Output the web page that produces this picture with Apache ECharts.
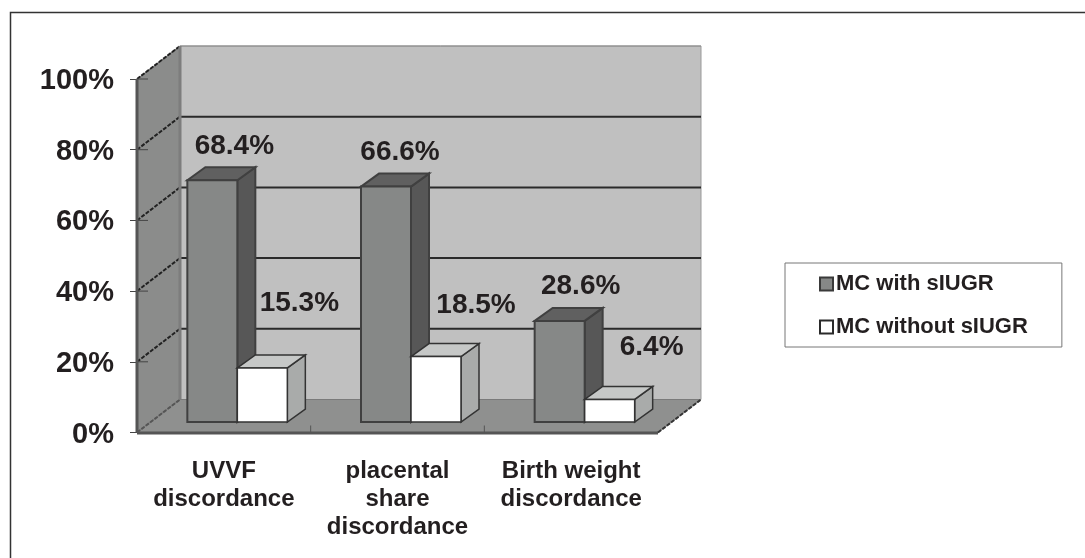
<!DOCTYPE html>
<html>
<head>
<meta charset="utf-8">
<style>
  html, body { margin: 0; padding: 0; background: #fff; }
  #main { width: 1085px; height: 558px; }
</style>
<script src="https://cdn.jsdelivr.net/npm/echarts@6/dist/echarts.min.js"></script>
</head>
<body>
<div id="main"></div>
<script>
var categories = ['UVVF\ndiscordance', 'placental\nshare\ndiscordance', 'Birth weight\ndiscordance']
var withSIUGR = [68.4, 66.6, 28.6]
var withoutSIUGR = [15.3, 18.5, 6.4]
var yTicks = [0, 20, 40, 60, 80, 100]

var FONT = '"Liberation Sans", Arial, sans-serif'
var INK = '#231f20'

// depth of the fake 3d box, in pixels
var WALL_DX = 43, WALL_DY = -33
var BASE_DX = 13.5, BASE_DY = -10.5
var BAR_DX = 18, BAR_DY = -13
var BAR_W = 50

// label nudges from the top of each bar, per series
var nudgeWith = [[22, -34], [14, -34], [21, -35]]
var nudgeWithout = [[37, -65], [40, -51], [42, -52]]

var myChart = echarts.init(document.getElementById('main'))

function poly(points, fill, stroke, width) {
  return {
    type: 'polygon',
    shape: { points: points },
    style: { fill: fill, stroke: stroke, lineWidth: width }
  }
}

function line(x1, y1, x2, y2, color, width, dash) {
  return {
    type: 'line',
    shape: { x1: x1, y1: y1, x2: x2, y2: y2 },
    style: { stroke: color, lineWidth: width, lineDash: dash || null }
  }
}

// walls, floor and grid lines
function renderBox(params, api) {
  var cs = params.coordSys
  var l = cs.x, r = cs.x + cs.width
  var t = api.coord([0, 100])[1], b = api.coord([0, 0])[1]
  var kids = [
    poly([[l + WALL_DX, t + WALL_DY], [r + WALL_DX, t + WALL_DY], [r + WALL_DX, b + WALL_DY], [l + WALL_DX, b + WALL_DY]], '#c0c0c0', '#9a9a9a', 1),
    poly([[l, t], [l + WALL_DX, t + WALL_DY], [l + WALL_DX, b + WALL_DY], [l, b]], '#8b8c8b', '#6a6a6a', 1),
    poly([[l, b], [l + WALL_DX, b + WALL_DY], [r + WALL_DX, b + WALL_DY], [r, b]], '#8f908f', '#7a7a7a', 1)
  ]
  yTicks.forEach(function (v) {
    var y = api.coord([0, v])[1]
    if (v > 0) {
      kids.push(line(l + WALL_DX, y + WALL_DY, r + WALL_DX, y + WALL_DY, v === 100 ? '#8a8a8a' : '#2a2a2a', v === 100 ? 1 : 2))
    }
    kids.push(line(l, y, l + WALL_DX, y + WALL_DY, v === 0 ? '#555' : '#222', 2, [4, 1.5]))
    kids.push(line(l, y, l + 11, y, '#444', 1))
  })
  kids.push(line(l + WALL_DX, t + WALL_DY, l + WALL_DX, b + WALL_DY, '#7d7d7d', 3))
  kids.push(line(l, t, l, b, '#555', 3))
  kids.push(line(l, b + 0.5, r, b + 0.5, '#555', 3))
  kids.push(line(r, b, r + WALL_DX, b + WALL_DY, '#333', 2, [4, 1.5]))
  for (var i = 1; i < categories.length; i++) {
    var tx = l + cs.width * i / categories.length
    kids.push(line(tx, b - 7, tx, b, '#555', 1))
  }
  return { type: 'group', children: kids }
}

function barRenderer(side, colors, nudges) {
  return function (params, api) {
    var idx = api.value(0), val = api.value(1)
    var c = api.coord([idx, val]), c0 = api.coord([idx, 0])
    var x0 = c[0] + BASE_DX + (side < 0 ? -BAR_W : 0), x1 = x0 + BAR_W
    var top = c[1] + BASE_DY, bot = c0[1] + BASE_DY
    var n = nudges[params.dataIndex]
    return {
      type: 'group',
      children: [
        poly([[x1, top], [x1 + BAR_DX, top + BAR_DY], [x1 + BAR_DX, bot + BAR_DY], [x1, bot]], colors.side, colors.line, colors.width),
        poly([[x0, top], [x0 + BAR_DX, top + BAR_DY], [x1 + BAR_DX, top + BAR_DY], [x1, top]], colors.top, colors.line, colors.width),
        poly([[x0, top], [x1, top], [x1, bot], [x0, bot]], colors.front, colors.line, colors.width),
        {
          type: 'text',
          z2: 20,
          style: {
            x: (x0 + x1) / 2 + n[0],
            y: top + n[1],
            text: val.toFixed(1) + '%',
            fill: INK,
            font: 'bold 28px ' + FONT,
            align: 'center',
            verticalAlign: 'middle'
          }
        }
      ]
    }
  }
}

myChart.setOption({
  animation: false,
  backgroundColor: '#fff',
  graphic: [{
    type: 'polyline',
    silent: true,
    shape: { points: [[10.5, 558], [10.5, 12.5], [1085, 12.5]] },
    style: { stroke: '#333', lineWidth: 1.5, fill: null }
  }],
  legend: {
    orient: 'vertical',
    left: 785,
    top: 263,
    padding: [10, 34, 9, 34],
    itemWidth: 13,
    itemHeight: 13,
    itemGap: 21,
    borderColor: '#777',
    borderWidth: 1,
    icon: 'rect',
    data: ['MC with sIUGR', 'MC without sIUGR'],
    textStyle: { fontFamily: FONT, fontWeight: 'bold', fontSize: 22, color: INK, padding: [0, 0, 0, -2] }
  },
  grid: { left: 137, top: 79, width: 521, height: 353.5 },
  xAxis: {
    type: 'category',
    data: categories,
    axisLine: { show: false },
    axisTick: { show: false },
    axisLabel: {
      interval: 0,
      margin: 25,
      color: INK,
      fontFamily: FONT,
      fontWeight: 'bold',
      fontSize: 24,
      lineHeight: 28
    }
  },
  yAxis: {
    type: 'value',
    min: 0,
    max: 100,
    interval: 20,
    splitLine: { show: false },
    axisLine: { show: false },
    axisTick: { show: true, length: 7, lineStyle: { color: '#444', width: 1 } },
    axisLabel: {
      margin: 23,
      verticalAlign: 'top',
      lineHeight: 4,
      color: INK,
      fontFamily: FONT,
      fontWeight: 'bold',
      fontSize: 29,
      formatter: '{value}%'
    }
  },
  series: [
    {
      type: 'custom',
      name: 'box',
      silent: true,
      z: 1,
      clip: false,
      data: [[0, 0]],
      renderItem: renderBox
    },
    {
      type: 'custom',
      name: 'MC with sIUGR',
      z: 2,
      clip: false,
      itemStyle: { color: '#868887', borderColor: '#3a3a3a', borderWidth: 3 },
      data: withSIUGR.map(function (v, i) { return [i, v] }),
      renderItem: barRenderer(-1, { front: '#868887', side: '#575757', top: '#606060', line: '#404040', width: 2 }, nudgeWith)
    },
    {
      type: 'custom',
      name: 'MC without sIUGR',
      z: 3,
      clip: false,
      itemStyle: { color: '#fff', borderColor: '#2a2a2a', borderWidth: 2 },
      data: withoutSIUGR.map(function (v, i) { return [i, v] }),
      renderItem: barRenderer(1, { front: '#ffffff', side: '#a9abaa', top: '#c6c8c7', line: '#333333', width: 1.5 }, nudgeWithout)
    }
  ]
})
</script>
</body>
</html>
